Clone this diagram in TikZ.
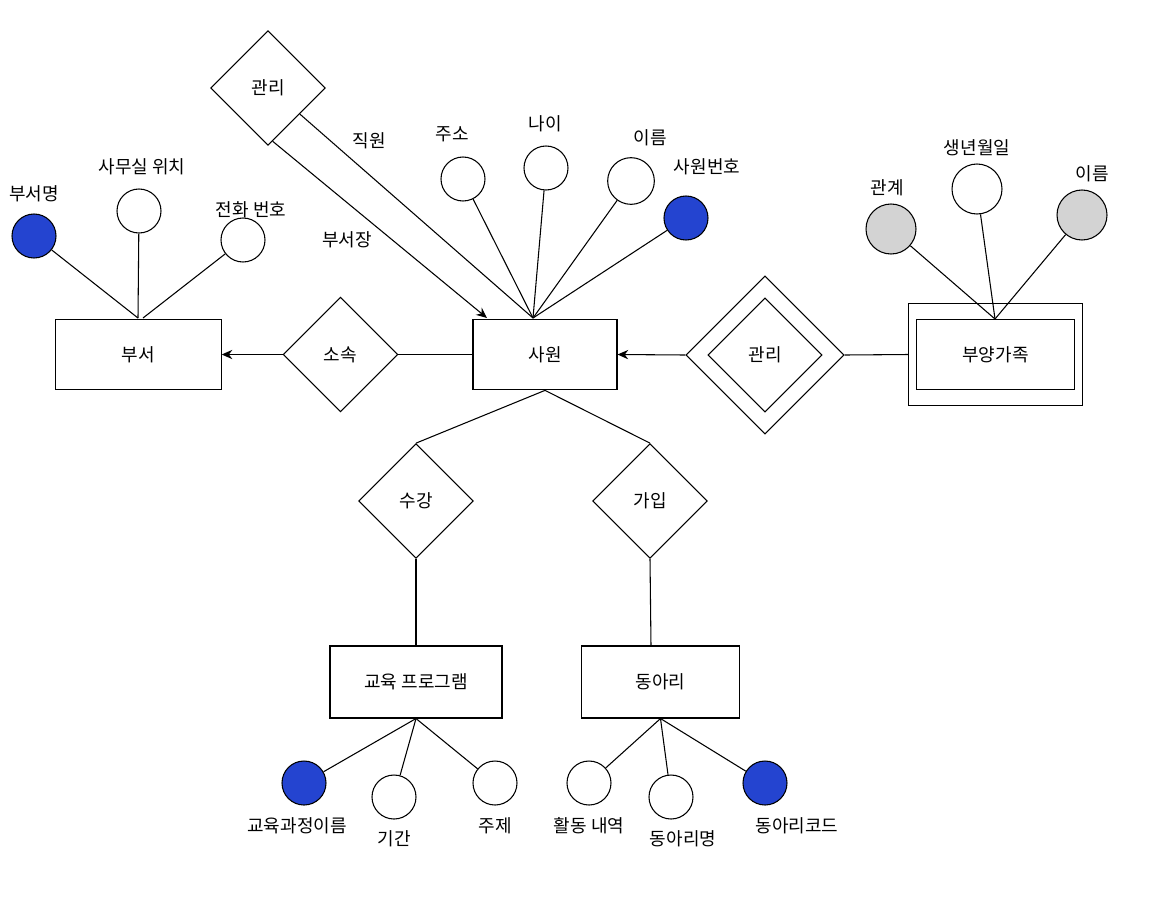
\documentclass[tikz,border=0pt]{standalone}
\usepackage{fontspec}
\setmainfont{Noto Sans CJK KR}
\usetikzlibrary{shapes.geometric,arrows.meta,calc}

\definecolor{keyblue}{RGB}{36,68,208}
\definecolor{partgray}{RGB}{211,211,211}

\tikzset{
  entity/.style={draw, rectangle, inner sep=0pt},
  relation/.style={draw, diamond, aspect=1, inner sep=0pt, minimum width=86pt, minimum height=86pt},
  attr/.style={draw, circle, inner sep=0pt, minimum size=33pt},
  keyattr/.style={attr, fill=keyblue},
  partattr/.style={attr, fill=partgray, minimum size=37.5pt},
  lbl/.style={inner sep=1pt},
  arr/.style={-{Stealth[length=8pt,width=7pt]}}
}

\begin{document}
\begin{tikzpicture}[x=0.75pt, y=-0.75pt, line width=0.8pt, font=\fontsize{13.5}{15}\selectfont]
    \useasboundingbox (0,0) rectangle (1149,904);

    % entities
    \node [entity, minimum width=124pt, minimum height=53pt] (dept) at (138.5,354.5) {부서};
    \node [entity, minimum width=108pt, minimum height=53pt] (emp) at (545,354.5) {사원};
    \node [entity, minimum width=130pt, minimum height=76pt] (depout) at (995.5,354.5) {};
    \node [entity, minimum width=119pt, minimum height=53pt] (dep) at (995.5,354.5) {부양가족};
    \node [entity, minimum width=129pt, minimum height=54pt] (edu) at (416,682) {교육 프로그램};
    \node [entity, minimum width=119pt, minimum height=54pt] (club) at (660.5,682) {동아리};

    % relations
    \node [relation] (belong) at (340.5,354.5) {소속};
    \node [relation] (manage) at (268,88) {관리};
    \node [relation, minimum width=118.5pt, minimum height=118.5pt] (wkout) at (765,355) {};
    \node [relation, minimum width=85.5pt, minimum height=85.5pt] (wk) at (765,355) {관리};
    \node [relation] (take) at (416,501) {수강};
    \node [relation] (join) at (650,501) {가입};

    % attributes of 부서
    \node [keyattr] (dname) at (34,236) {};
    \node [attr] (office) at (139,211) {};
    \node [attr] (phone) at (243,240) {};
    \node [lbl] (dnamel) at (34,194) {부서명};
    \node [lbl] (officel) at (142,167) {사무실 위치};
    \node [lbl] (phonel) at (251,210) {전화 번호};
    \coordinate (depttop) at (138,318);
    \coordinate (depttop2) at (143,318);
    \draw (dname) -- (depttop);
    \draw (office) -- (depttop);
    \draw (phone) -- (depttop2);

    % attributes of 사원
    \node [attr] (addr) at (463,179) {};
    \node [attr] (age) at (546,168) {};
    \node [attr, minimum size=35pt] (ename) at (631,181) {};
    \node [keyattr] (eno) at (686,218) {};
    \node [lbl] (addrl) at (452,134) {주소};
    \node [lbl] (agel) at (545,124) {나이};
    \node [lbl] (enamel) at (650,138) {이름};
    \node [lbl] (enol) at (707,167) {사원번호};
    \coordinate (emptop) at (533,318);
    \draw (addr) -- (emptop);
    \draw (age) -- (emptop);
    \draw (ename) -- (emptop);
    \draw (eno) -- (emptop);

    % 관리 (직원 / 부서장)
    \coordinate (mgr1) at ($(manage.east)!0.45!(manage.south)$);
    \coordinate (mgr2) at ($(manage.east)!0.92!(manage.south)$);
    \coordinate (emptopl) at (487,318);
    \draw (mgr1) -- (emptop);
    \draw [arr] (mgr2) -- (emptopl);
    \node [lbl] (staffl) at (369,141) {직원};
    \node [lbl] (headl) at (347,240) {부서장};

    % attributes of 부양가족
    \node [partattr] (rel) at (891,229) {};
    \node [attr, minimum size=37.5pt] (birth) at (977,189) {};
    \node [partattr] (dpname) at (1082,215) {};
    \node [lbl] (rell) at (887,188) {관계};
    \node [lbl] (birthl) at (977,148) {생년월일};
    \node [lbl] (dpnamel) at (1092,174) {이름};
    \coordinate (deptop) at (995,319);
    \draw (rel) -- (deptop);
    \draw (birth) -- (deptop);
    \draw (dpname) -- (deptop);

    % relations to entities
    \coordinate (clubtop) at (651,646);
    \draw [arr] (belong.west) -- (dept.east);
    \draw (belong.east) -- (emp.west);
    \draw [arr] (wkout.west) -- (emp.east);
    \draw (wkout.east) -- (depout.west);
    \draw (emp.south) -- (take.north);
    \draw (emp.south) -- (join.north);
    \draw (take.south) -- (edu.north);
    \draw (join.south) -- (clubtop);

    % attributes of 교육 프로그램
    \node [keyattr] (cname) at (304,783) {};
    \node [attr] (period) at (394,797) {};
    \node [attr] (topic) at (495,783) {};
    \node [lbl] (cnamel) at (297,826) {교육과정이름};
    \node [lbl] (periodl) at (394,839) {기간};
    \node [lbl] (topicl) at (495,826) {주제};
    \draw (edu.south) -- (cname);
    \draw (edu.south) -- (period);
    \draw (edu.south) -- (topic);

    % attributes of 동아리
    \node [attr] (act) at (589,783) {};
    \node [attr] (clname) at (671,797) {};
    \node [keyattr] (clcode) at (765,783) {};
    \node [lbl] (actl) at (589,826) {활동 내역};
    \node [lbl] (clnamel) at (683,839) {동아리명};
    \node [lbl] (clcodel) at (797,826) {동아리코드};
    \draw (club.south) -- (act);
    \draw (club.south) -- (clname);
    \draw (club.south) -- (clcode);
\end{tikzpicture}
\end{document}
